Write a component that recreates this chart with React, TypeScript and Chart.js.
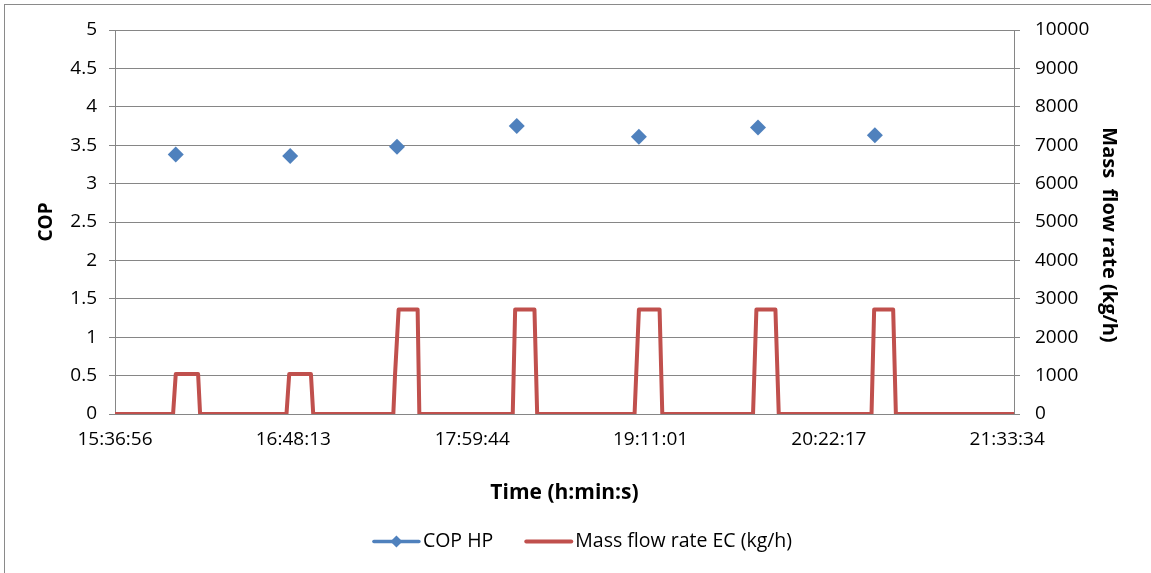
import React, { useEffect, useRef } from 'react';
import { Chart, registerables } from 'chart.js';

Chart.register(...registerables);

// ---- data ----
const axisStart = '15:36:56';
const axisEnd = '21:36:17';
const tickLabels = ['15:36:56', '16:48:13', '17:59:44', '19:11:01', '20:22:17', '21:33:34'];

const copTimes = ['16:01:13', '16:46:58', '17:29:40', '18:17:31', '19:06:21', '19:53:58', '20:40:40'];
const copValues = [3.38, 3.36, 3.48, 3.75, 3.61, 3.73, 3.63];

const flowTimes = [
  '15:36:56', '16:00:09', '16:01:13', '16:10:09', '16:10:57',
  '16:45:29', '16:46:34', '16:55:15', '16:56:10',
  '17:28:11', '17:28:52', '17:30:18', '17:37:54', '17:38:35',
  '18:15:55', '18:16:53', '18:24:36', '18:25:41',
  '19:04:37', '19:06:21', '19:14:37', '19:15:42',
  '19:51:58', '19:53:19', '20:00:55', '20:02:15',
  '20:39:20', '20:40:23', '20:47:59', '20:49:04',
  '21:36:17',
];
const flowValues = [
  0, 0, 1040, 1040, 0,
  0, 1040, 1040, 0,
  0, 1020, 2720, 2720, 0,
  0, 2720, 2720, 0,
  0, 2720, 2720, 0,
  0, 2720, 2720, 0,
  0, 2720, 2720, 0,
  0,
];

const seriesNames = ['COP HP', 'Mass flow rate EC (kg/h)'];
const axisTitles = { x: 'Time (h:min:s)', left: 'COP', right: '     Mass  flow rate (kg/h)' };

// ---- helpers ----
const toSec = (s: string) => {
  const [h, m, x] = s.split(':').map(Number);
  return h * 3600 + m * 60 + x;
};
const fmt = (v: number) => {
  const h = Math.floor(v / 3600);
  const m = Math.floor((v % 3600) / 60);
  const s = Math.round(v % 60);
  return `${h}:${String(m).padStart(2, '0')}:${String(s).padStart(2, '0')}`;
};

const BLUE = '#4F81BD';
const RED = '#C0504D';
const GRID = '#868686';
const FONT = '"Open Sans"';

const borderPlugin = {
  id: 'outerBorder',
  afterDraw(chart: any) {
    const { ctx } = chart;
    ctx.save();
    ctx.strokeStyle = '#8a8a8a';
    ctx.lineWidth = 1;
    ctx.strokeRect(4.5, 4.5, 1150, 572);
    ctx.restore();
  },
};

const legendPlugin = {
  id: 'customLegend',
  afterDraw(chart: any) {
    const { ctx } = chart;
    ctx.save();
    ctx.font = `19.5px ${FONT}`;
    ctx.textBaseline = 'middle';
    ctx.textAlign = 'left';
    const y = 541.5;
    const lineLen = 47;
    const gapText = 3;
    const gapItems = 32;
    const w1 = ctx.measureText(seriesNames[0]).width;
    const w2 = ctx.measureText(seriesNames[1]).width;
    const total = lineLen + gapText + w1 + gapItems + lineLen + gapText + w2;
    let x = 582.5 - total / 2;
    // item 1
    ctx.strokeStyle = BLUE;
    ctx.lineWidth = 3.5;
    ctx.lineCap = 'round';
    ctx.beginPath();
    ctx.moveTo(x + 1, y);
    ctx.lineTo(x + lineLen - 1, y);
    ctx.stroke();
    const cx = x + lineLen / 2;
    ctx.fillStyle = BLUE;
    ctx.beginPath();
    ctx.moveTo(cx, y - 6);
    ctx.lineTo(cx + 6, y);
    ctx.lineTo(cx, y + 6);
    ctx.lineTo(cx - 6, y);
    ctx.closePath();
    ctx.fill();
    ctx.fillStyle = '#000';
    ctx.fillText(seriesNames[0], x + lineLen + gapText, y);
    x += lineLen + gapText + w1 + gapItems;
    // item 2
    ctx.strokeStyle = RED;
    ctx.lineWidth = 4;
    ctx.beginPath();
    ctx.moveTo(x + 1, y);
    ctx.lineTo(x + lineLen - 1, y);
    ctx.stroke();
    ctx.fillStyle = '#000';
    ctx.fillText(seriesNames[1], x + lineLen + gapText, y);
    ctx.restore();
  },
};

export default function App() {
  const ref = useRef<HTMLCanvasElement>(null);

  useEffect(() => {
    if (!ref.current) return;
    const tickSecs = tickLabels.map(toSec);
    const chart = new Chart(ref.current, {
      type: 'line',
      data: {
        datasets: [
          {
            label: seriesNames[0],
            data: copTimes.map((t, i) => ({ x: toSec(t), y: copValues[i] })),
            yAxisID: 'y',
            showLine: false,
            pointStyle: 'rectRot',
            pointRadius: 8,
            pointHoverRadius: 8,
            pointBackgroundColor: BLUE,
            pointBorderColor: BLUE,
            pointBorderWidth: 0,
            borderColor: BLUE,
            backgroundColor: BLUE,
          },
          {
            label: seriesNames[1],
            data: flowTimes.map((t, i) => ({ x: toSec(t), y: flowValues[i] })),
            yAxisID: 'y1',
            borderColor: RED,
            backgroundColor: RED,
            borderWidth: 4,
            pointRadius: 0,
            tension: 0,
            borderJoinStyle: 'round',
            borderCapStyle: 'round',
          },
        ],
      },
      options: {
        responsive: false,
        animation: false,
        layout: { padding: { top: 30, bottom: 67, left: 0, right: 0 } },
        plugins: { legend: { display: false }, tooltip: { enabled: false } },
        scales: {
          x: {
            type: 'linear',
            min: toSec(axisStart),
            max: toSec(axisEnd),
            afterBuildTicks: (scale: any) => {
              scale.ticks = tickSecs.map((v) => ({ value: v }));
            },
            afterFit: (scale: any) => {
              scale.height = 92;
            },
            grid: { drawOnChartArea: false, drawTicks: false },
            border: { display: true, color: GRID, width: 1 },
            ticks: {
              autoSkip: false,
              maxRotation: 0,
              padding: 14,
              color: '#000',
              font: { family: FONT, size: 19 },
              callback: (v: any) => fmt(Number(v)),
            },
            title: {
              display: true,
              text: axisTitles.x,
              color: '#000',
              font: { family: FONT, size: 21, weight: 'bold' },
              padding: { top: 0, bottom: 0 },
            },
          },
          y: {
            position: 'left',
            min: 0,
            max: 5,
            afterFit: (scale: any) => {
              scale.width = 115;
            },
            grid: { color: GRID, lineWidth: 1, tickLength: 6, drawTicks: true },
            border: { display: true, color: GRID, width: 1 },
            ticks: {
              stepSize: 0.5,
              padding: 12,
              color: '#000',
              font: { family: FONT, size: 19 },
              callback: (v: any) => String(v),
            },
            title: {
              display: true,
              text: axisTitles.left,
              color: '#000',
              font: { family: FONT, size: 19, weight: 'bold' },
              padding: { top: 35.6, bottom: 0 },
            },
          },
          y1: {
            position: 'right',
            min: 0,
            max: 10000,
            afterFit: (scale: any) => {
              scale.width = 137;
            },
            grid: { drawOnChartArea: false, color: GRID, tickLength: 6, drawTicks: true },
            border: { display: true, color: GRID, width: 1 },
            ticks: {
              stepSize: 1000,
              padding: 15,
              color: '#000',
              font: { family: FONT, size: 19 },
              callback: (v: any) => String(v),
            },
            title: {
              display: true,
              text: axisTitles.right,
              color: '#000',
              font: { family: FONT, size: 20, weight: 'bold' },
              padding: { top: 30.5, bottom: 0 },
            },
          },
        },
      },
      plugins: [borderPlugin, legendPlugin],
    } as any);
    return () => chart.destroy();
  }, []);

  return (
    <div style={{ position: 'fixed', left: 0, top: 0, width: 1151, height: 573, background: '#fff' }}>
      <canvas ref={ref} width={1151} height={573} style={{ display: 'block' }} />
    </div>
  );
}
